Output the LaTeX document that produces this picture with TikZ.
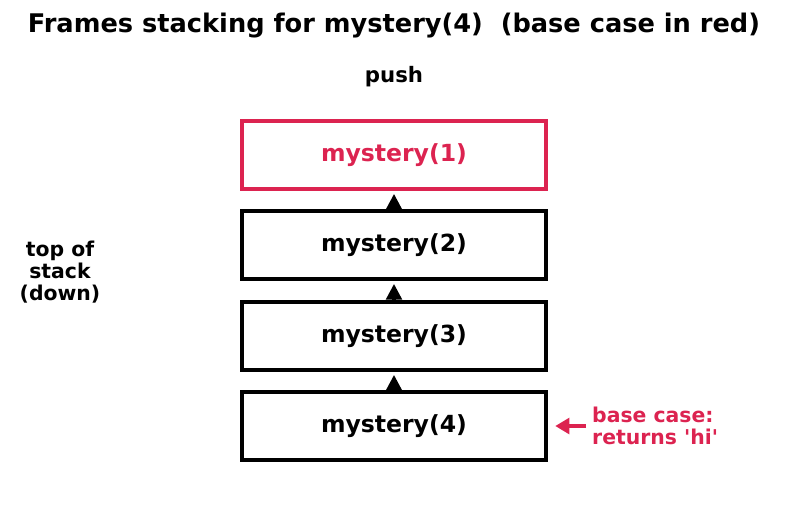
\documentclass[tikz,border=0pt]{standalone}
\usepackage{fontspec}
\setmainfont{DejaVu Sans}
\usetikzlibrary{arrows.meta}
\definecolor{basered}{RGB}{220,35,80}
\tikzset{
  frame/.style={draw, line width=2.6pt, minimum width=6.08cm, minimum height=1.36cm, font=\bfseries\fontsize{13.4}{16}\selectfont},
  pusharrow/.style={-{Triangle[length=9pt,width=9pt]}, line width=1.8pt, shorten >=1.5pt},
  sidelabel/.style={font=\bfseries\fontsize{11.6}{12.7}\selectfont, align=center}
}
\begin{document}
\begin{tikzpicture}[x=0.02cm, y=-0.02cm]
    \useasboundingbox (0,0) rectangle (787,512);
    
    % Title
    \node[font=\bfseries\fontsize{14.6}{17}\selectfont] (title) at (394,26) {Frames stacking for mystery(4)\ \ (base case in red)};
    \node[font=\bfseries\fontsize{12.1}{14}\selectfont] (push) at (394,77) {push};
    
    % Frames
    \node[frame, draw=basered, text=basered] (m1) at (394,155) {mystery(1)};
    \node[frame] (m2) at (394,245) {mystery(2)};
    \node[frame] (m3) at (394,336) {mystery(3)};
    \node[frame] (m4) at (394,426) {mystery(4)};
    
    % Arrows
    \draw[pusharrow] (m2.north) -- (m1.south);
    \draw[pusharrow] (m3.north) -- (m2.south);
    \draw[pusharrow] (m4.north) -- (m3.south);
    
    % Labels
    \node[sidelabel] (top) at (60,272) {top of\\stack\\(down)};
    \node[sidelabel, text=basered, align=left, anchor=west] (base) at (586,426) {base case:\\returns \textquotesingle hi\textquotesingle};
    \coordinate (tail) at (586,426);
    \draw[-{Triangle[length=8pt,width=9pt]}, line width=1.8pt, basered] (tail) -- ([xshift=4pt]m4.east);
\end{tikzpicture}
\end{document}
